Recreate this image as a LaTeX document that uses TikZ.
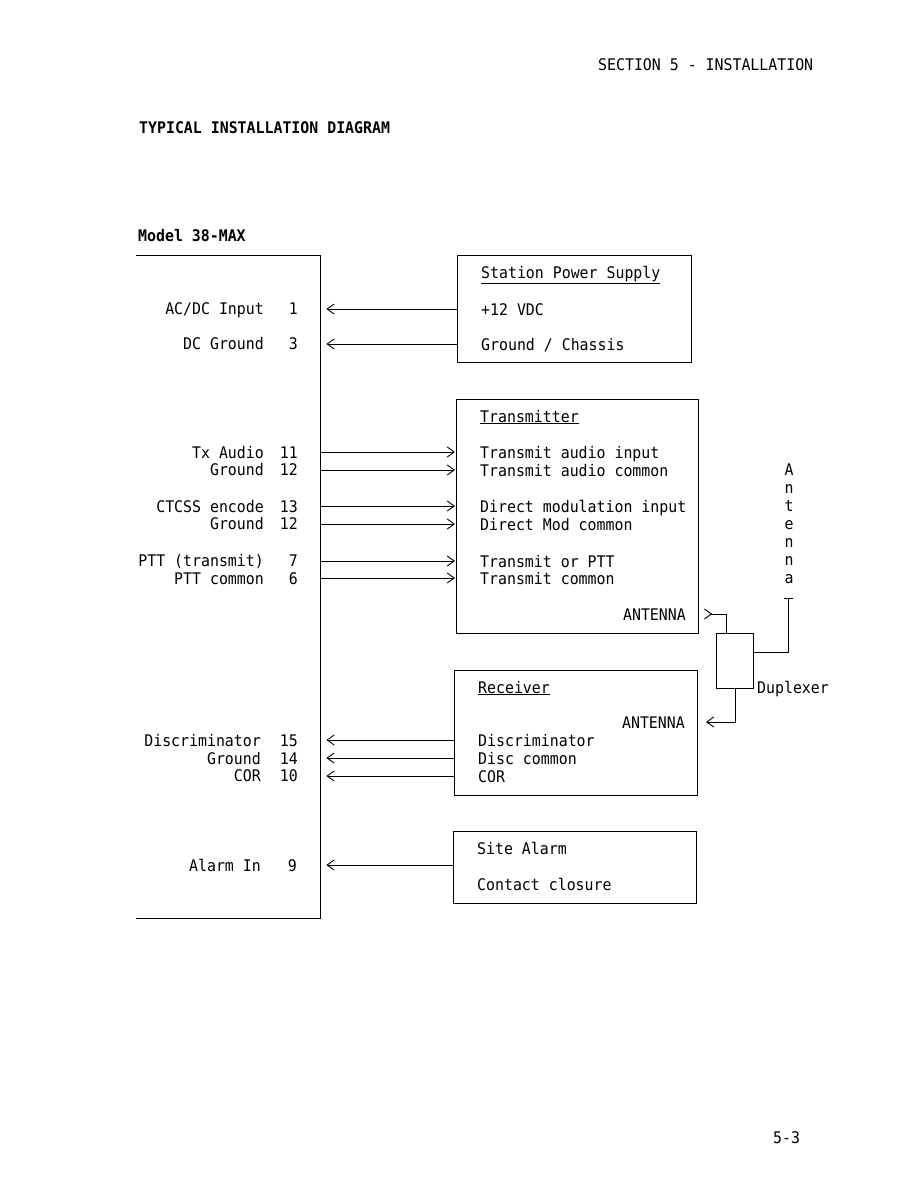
\documentclass[tikz,border=0pt]{standalone}
\usepackage{fontspec}
\newfontfamily\mono[FakeStretch=0.93]{DejaVu Sans Mono}
\usetikzlibrary{arrows.meta,calc}
\begin{document}
\begin{tikzpicture}[x=1pt,y=-1pt,
  txt/.style={inner sep=0pt, text height=12pt, text depth=0pt, font=\mono\fontsize{16}{18}\selectfont},
  txtb/.style={txt, font=\mono\bfseries\fontsize{16}{18}\selectfont},
  L/.style={txt, anchor=west},
  R/.style={txt, anchor=east},
  box/.style={draw, line width=1pt, inner sep=0pt, anchor=north west},
  wire/.style={line width=1pt},
  tipL/.style={wire, -{Straight Barb[length=7pt,width=10pt,line width=0.9pt]}},
  tipS/.style={wire, {Straight Barb[reversed,length=7pt,width=10pt,line width=0.9pt]}-}
]
\useasboundingbox (0,0) rectangle (918,1188);
\fill[white] (0,0) rectangle (918,1188);

% headings
\node[L] (sec) at (598,65) {SECTION 5 - INSTALLATION};
\node[txtb, anchor=west] (title) at (139,127) {TYPICAL INSTALLATION DIAGRAM};
\node[txtb, anchor=west] (mtitle) at (138,235) {Model 38-MAX};
\node[L] (pg) at (773,1137) {5-3};

% model box
\node[inner sep=0pt, minimum width=184pt, minimum height=663pt, anchor=north west] (model) at (136,255) {};
\draw[wire] (model.north west) -- (model.north east) -- (model.south east) -- (model.south west);

% left labels
\node[R] (l1)  at (264,308) {AC/DC Input};   \node[R] (n1)  at (298,308) {1};
\node[R] (l3)  at (264,343) {DC Ground};     \node[R] (n3)  at (298,343) {3};
\node[R] (l11) at (264,452) {Tx Audio};      \node[R] (n11) at (298,452) {11};
\node[R] (l12) at (264,469) {Ground};        \node[R] (n12) at (298,469) {12};
\node[R] (l13) at (264,506) {CTCSS encode};  \node[R] (n13) at (298,506) {13};
\node[R] (l12b) at (264,523) {Ground};       \node[R] (n12b) at (298,523) {12};
\node[R] (l7)  at (264,560) {PTT (transmit)};\node[R] (n7)  at (298,560) {7};
\node[R] (l6)  at (264,578) {PTT common};    \node[R] (n6)  at (298,578) {6};
\node[R] (l15) at (261,740) {Discriminator}; \node[R] (n15) at (298,740) {15};
\node[R] (l14) at (261,758) {Ground};        \node[R] (n14) at (298,758) {14};
\node[R] (l10) at (261,775) {COR};           \node[R] (n10) at (298,775) {10};
\node[R] (l9)  at (261,865) {Alarm In};      \node[R] (n9)  at (297,865) {9};

% power supply
\node[box, minimum width=234pt, minimum height=107pt] (psu) at (457,255) {};
\node[L] (psuT) at (481,272) {\underline{Station Power Supply}};
\node[L] (psuA) at (481,309) {+12 VDC};
\node[L] (psuB) at (481,344) {Ground / Chassis};
\draw[tipL, shorten >=6pt] (psu.west |- psuA) -- (model.east |- psuA);
\draw[tipL, shorten >=6pt] (psu.west |- psuB) -- (model.east |- psuB);

% transmitter
\node[box, minimum width=242pt, minimum height=234pt] (tx) at (456,399) {};
\node[L] (txT) at (480,416) {\underline{Transmitter}};
\node[L] (txA) at (480,452) {Transmit audio input};
\node[L] (txB) at (480,470) {Transmit audio common};
\node[L] (txC) at (480,506) {Direct modulation input};
\node[L] (txD) at (480,524) {Direct Mod common};
\node[L] (txE) at (480,561) {Transmit or PTT};
\node[L] (txF) at (480,578) {Transmit common};
\node[R] (txant) at (686,614) {ANTENNA};
\foreach \t in {txA,txB,txC,txD,txE,txF}
  \draw[tipL, shorten >=1pt] (model.east |- \t) -- (tx.west |- \t);

% receiver
\node[box, minimum width=243pt, minimum height=125pt] (rx) at (454,670) {};
\node[L] (rxT) at (478,687) {\underline{Receiver}};
\node[R] (rxant) at (685,722) {ANTENNA};
\node[L] (rxA) at (478,740) {Discriminator};
\node[L] (rxB) at (478,758) {Disc common};
\node[L] (rxC) at (478,776) {COR};
\foreach \t in {rxA,rxB,rxC}
  \draw[tipL, shorten >=6pt] (rx.west |- \t) -- (model.east |- \t);

% site alarm
\node[box, minimum width=243pt, minimum height=72pt] (al) at (453,831) {};
\node[L] (alT) at (477,848) {Site Alarm};
\node[L] (alB) at (477,884) {Contact closure};
\draw[tipL, shorten >=6pt] (al.west |- l9) -- (model.east |- l9);

% duplexer and antenna
\node[box, minimum width=37pt, minimum height=55pt] (dup) at (716,633) {};
\node[L] (dupl) at (757,687) {Duplexer};
\coordinate (antT) at (788,598);
\draw[tipS] ([xshift=5pt]tx.east |- txant) -| ([xshift=-9pt]dup.north);
\draw[tipL] (dup.south) |- ([xshift=8pt]rx.east |- rxant);
\draw[wire] ([yshift=8.5pt]dup.east) -| (antT);
\draw[wire] ([xshift=-4.5pt]antT) -- ([xshift=4.5pt]antT);
\node[inner sep=0pt, align=center, font=\mono\fontsize{16}{18}\selectfont] (antword) at (789,524) {A\\n\\t\\e\\n\\n\\a};
\end{tikzpicture}
\end{document}
